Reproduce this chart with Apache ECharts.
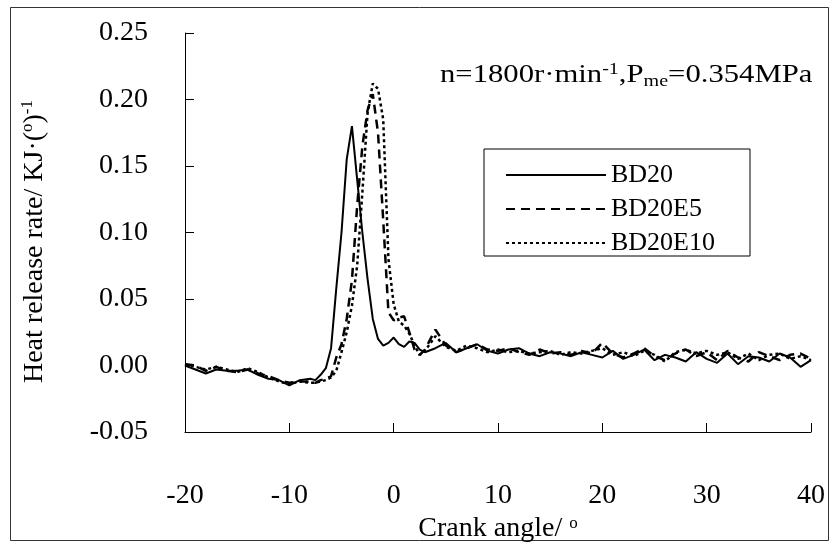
<!DOCTYPE html>
<html>
<head>
<meta charset="utf-8">
<script src="https://cdn.jsdelivr.net/npm/echarts@6/dist/echarts.min.js"></script>
<style>html,body{margin:0;padding:0;background:#fff}#c{width:830px;height:542px}</style>
</head>
<body>
<div id="c"></div>
<script>
// Crank angle (degrees)
const crankAngle = [-20,-19,-18,-17,-16,-15,-14,-13,-12,-11,-10,-9,-8,
  -7.5,-7,-6.5,-6,-5.5,-5,-4.5,-4,-3.5,-3,-2.5,-2,-1.5,-1,-0.5,0,0.5,1,1.5,2,2.5,3,
  4,5,6,7,8,9,10,11,12,13,14,15,16,17,18,19,20,21,22,23,24,25,26,27,28,29,30,31,32,33,34,35,36,37,38,39,40];
const seriesNames = ['BD20','BD20E5','BD20E10'];
const bd20 = [0.000,-0.003,-0.006,-0.003,-0.004,-0.004,-0.003,-0.007,-0.010,-0.011,-0.015,-0.011,-0.010,
  -0.011,-0.007,-0.002,0.013,0.058,0.100,0.155,0.180,0.140,0.100,0.065,0.035,0.020,0.015,0.017,0.021,0.016,0.014,0.018,0.017,0.012,0.010,
  0.013,0.017,0.010,0.013,0.016,0.011,0.009,0.012,0.013,0.009,0.007,0.010,0.009,0.007,0.010,0.008,0.006,0.011,0.005,0.008,0.012,0.004,0.008,0.006,0.003,0.010,0.005,0.002,0.009,0.001,0.007,0.006,0.003,0.009,0.006,-0.001,0.004];
const bd20e5 = [0.001,0.000,-0.004,-0.001,-0.004,-0.005,-0.003,-0.006,-0.008,-0.011,-0.013,-0.012,-0.012,
  -0.013,-0.011,-0.010,-0.008,0.006,0.016,0.035,0.064,0.120,0.165,0.192,0.204,0.175,0.109,0.040,0.034,0.036,0.037,0.025,0.012,0.008,0.012,
  0.027,0.015,0.010,0.013,0.016,0.012,0.011,0.013,0.010,0.008,0.012,0.009,0.010,0.008,0.011,0.009,0.017,0.009,0.006,0.009,0.013,0.007,0.004,0.009,0.012,0.007,0.010,0.004,0.011,0.006,0.003,0.010,0.007,0.004,0.008,0.009,0.005];
const bd20e10 = [0.001,-0.001,-0.003,-0.001,-0.003,-0.005,-0.002,-0.005,-0.009,-0.012,-0.014,-0.012,-0.013,
  -0.013,-0.012,-0.011,-0.009,-0.004,0.010,0.025,0.045,0.075,0.130,0.190,0.212,0.208,0.185,0.080,0.046,0.033,0.030,0.024,0.015,0.008,0.011,
  0.022,0.014,0.011,0.015,0.013,0.010,0.012,0.010,0.011,0.009,0.010,0.011,0.008,0.010,0.009,0.011,0.013,0.008,0.010,0.007,0.011,0.008,0.003,0.010,0.012,0.009,0.011,0.008,0.010,0.005,0.009,0.004,0.008,0.009,0.005,0.007,0.004];
const xTicks = {min:-20, max:40, interval:10};
const yTicks = {min:-0.05, max:0.25, interval:0.05};

const FONT = '"Liberation Serif","Times New Roman",serif';
const pair = (ys) => crankAngle.map((x,i)=>[x, ys[i]]);
const chart = echarts.init(document.getElementById('c'), null, {renderer:'canvas'});
const lineStyles = [
  {width:2, type:'solid'},
  {width:2.5, type:[9,6]},
  {width:2.5, type:[3,3]}
];
const allData = [bd20, bd20e5, bd20e10];
chart.setOption({
  animation:false,
  backgroundColor:'#fff',
  grid:{left:185, right:19, top:33, bottom:110, containLabel:false, outerBoundsMode:'none'},
  xAxis:{type:'value', min:xTicks.min, max:xTicks.max, interval:xTicks.interval,
    axisLine:{onZero:false, lineStyle:{color:'#000', width:1}},
    axisTick:{inside:true, length:9, lineStyle:{color:'#000'}},
    splitLine:{show:false},
    axisLabel:{color:'#000', fontSize:28, fontFamily:FONT, margin:50},
    name:'Crank angle/ {so|o}', nameLocation:'middle', nameGap:71,
    nameTextStyle:{color:'#000', fontSize:28, fontFamily:FONT,
      rich:{so:{fontSize:17, fontFamily:FONT, color:'#000', verticalAlign:'top', padding:[0,0,11,0]}}}
  },
  yAxis:{type:'value', min:yTicks.min, max:yTicks.max, interval:yTicks.interval,
    axisLine:{show:true, onZero:false, lineStyle:{color:'#000', width:1}},
    axisTick:{show:true, inside:true, length:9, lineStyle:{color:'#000'}},
    splitLine:{show:false},
    axisLabel:{color:'#000', fontSize:28, fontFamily:FONT, margin:37,
      formatter:(v)=>{const r=Math.round(v*100)/100; return (Math.abs(r)<1e-9?0:r).toFixed(2);}},
    name:'Heat release rate/ KJ·({so|o}){sup|-1}', nameLocation:'middle', nameGap:134, nameRotate:90,
    nameTextStyle:{color:'#000', fontSize:28, fontFamily:FONT, padding:[0,18,0,0],
      rich:{so:{fontSize:17, fontFamily:FONT, color:'#000', verticalAlign:'top', padding:[0,0,11,0]},
            sup:{fontSize:17, fontFamily:FONT, color:'#000', verticalAlign:'top', padding:[0,0,15,0]}}}
  },
  legend:{data:seriesNames, orient:'vertical', left:484, top:149,
    padding:[13,35,0,21], itemGap:8, itemWidth:100, itemHeight:14,
    itemStyle:{opacity:0},
    borderColor:'#000', borderWidth:1, backgroundColor:'#fff',
    textStyle:{color:'#000', fontSize:26, fontFamily:FONT}},
  graphic:[
    {type:'rect', left:8, top:5, shape:{width:818, height:533}, style:{fill:null, stroke:'#333', lineWidth:1}, silent:true, z:-1},
    {type:'text', x:440, y:61, scaleX:1.18, style:{
      text:'{n|n=1800r·min}{sup|-1}{n|,P}{sub|me}{n|=0.354MPa}',
      rich:{n:{fontSize:26, fontFamily:FONT, fill:'#000', verticalAlign:'middle'},
            sup:{fontSize:17, fontFamily:FONT, fill:'#000', verticalAlign:'top', padding:[0,0,12,0]},
            sub:{fontSize:17, fontFamily:FONT, fill:'#000', verticalAlign:'bottom', padding:[10,0,0,0]}}
    }}
  ],
  series: seriesNames.map((n,i)=>({
    name:n, type:'line', data:pair(allData[i]), symbol:'none', showSymbol:false,
    lineStyle:Object.assign({color:'#000'}, lineStyles[i]), itemStyle:{color:'#000'}, z:3-i
  }))
});
</script>
</body>
</html>
